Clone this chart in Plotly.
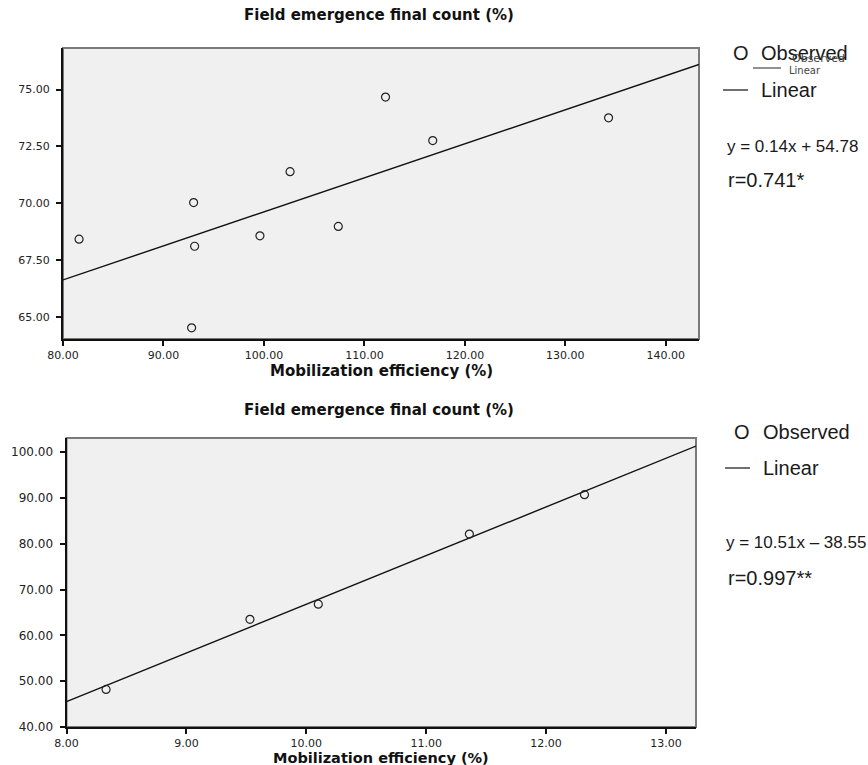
import numpy as np
import plotly.graph_objects as go

# ---------------- data ----------------
top_x = [81.6, 92.8, 93.0, 93.1, 99.6, 102.6, 107.4, 112.1, 116.8, 134.3]
top_y = [68.42, 64.52, 70.03, 68.11, 68.57, 71.39, 68.98, 74.67, 72.76, 73.76]
bot_x = [8.33, 9.53, 10.10, 11.36, 12.32]
bot_y = [48.2, 63.5, 66.8, 82.1, 90.7]

top_xticks = [80, 90, 100, 110, 120, 130, 140]
top_yticks = [65, 67.5, 70, 72.5, 75]
bot_xticks = [8, 9, 10, 11, 12, 13]
bot_yticks = [40, 50, 60, 70, 80, 90, 100]

top_xrange = [80, 143.3]
top_yrange = [64.03, 76.83]
bot_xrange = [8, 13.25]
bot_yrange = [40, 103.06]

title_text = "Field emergence final count (%)"
xtitle_text = "Mobilization efficiency (%)"
top_eq = "y = 0.14x + 54.78"
top_r = "r=0.741*"
bot_eq = "y = 10.51x \u2013 38.55"
bot_r = "r=0.997**"

# ---------------- page geometry helpers ----------------
W, H = 868, 765


def px(x):
    return x / W


def py(y):
    return 1 - y / H


fig = go.Figure()

# least-squares fits from the data
tb = np.polyfit(top_x, top_y, 1)
bb = np.polyfit(bot_x, bot_y, 1)
tlx = np.array(top_xrange)
blx = np.array(bot_xrange)

marker = dict(symbol="circle-open", size=8, color="#222222", line=dict(width=1.2, color="#222222"))
lstyle = dict(color="#111111", width=1.4)

fig.add_trace(go.Scatter(x=tlx, y=np.polyval(tb, tlx), mode="lines", line=lstyle,
                         xaxis="x", yaxis="y", showlegend=False, hoverinfo="skip"))
fig.add_trace(go.Scatter(x=top_x, y=top_y, mode="markers", marker=marker,
                         xaxis="x", yaxis="y", showlegend=False))
fig.add_trace(go.Scatter(x=blx, y=np.polyval(bb, blx), mode="lines", line=lstyle,
                         xaxis="x2", yaxis="y2", showlegend=False, hoverinfo="skip"))
fig.add_trace(go.Scatter(x=bot_x, y=bot_y, mode="markers", marker=marker,
                         xaxis="x2", yaxis="y2", showlegend=False))


def axstyle(size):
    return dict(showgrid=False, zeroline=False, showline=True, linecolor="#111111", linewidth=2,
                ticks="outside", ticklen=5, tickwidth=1.5, tickcolor="#111111",
                tickfont=dict(family="DejaVu Sans", size=size, color="#222222"),
                tickformat=".2f", fixedrange=True, automargin=False)


fig.update_layout(
    width=W, height=H,
    margin=dict(l=0, r=0, t=0, b=0, pad=0, autoexpand=False),
    paper_bgcolor="white",
    plot_bgcolor="#f0f0f0",
    xaxis=dict(domain=[px(63), px(699)], range=top_xrange, tickvals=top_xticks,
               anchor="y", **axstyle(11)),
    yaxis=dict(domain=[py(339), py(48)], range=top_yrange, tickvals=top_yticks,
               anchor="x", ticklabelstandoff=4, **axstyle(11)),
    xaxis2=dict(domain=[px(66.5), px(696)], range=bot_xrange, tickvals=bot_xticks,
                anchor="y2", **axstyle(11)),
    yaxis2=dict(domain=[py(727), py(438)], range=bot_yrange, tickvals=bot_yticks,
                anchor="x2", ticklabelstandoff=4, **axstyle(12)),
)

# frames (gray top/right border)
for xr, yr in (("x", "y"), ("x2", "y2")):
    fig.add_shape(type="rect", xref=f"{xr} domain", yref=f"{yr} domain",
                  x0=0, x1=1, y0=0, y1=1, line=dict(color="#7a7a7a", width=2), layer="below")

ann = []
bold = dict(family="DejaVu Sans", size=15, color="#111111", weight="bold")
bold_ax = dict(family="DejaVu Sans", size=15, color="#111111", weight="bold")
bold_ax2 = dict(family="DejaVu Sans", size=14.5, color="#111111", weight="bold")
# titles
ann.append(dict(text=f"<b>{title_text}</b>", x=px(379), y=py(15), font=bold))
ann.append(dict(text=f"<b>{xtitle_text}</b>", x=px(381), y=py(371), font=bold_ax))
ann.append(dict(text=f"<b>{title_text}</b>", x=px(379), y=py(410), font=bold))
ann.append(dict(text=f"<b>{xtitle_text}</b>", x=px(381), y=py(758), font=bold_ax2))

legfont = dict(family="Liberation Sans", size=20, color="#1a1a1a")
eqfont = dict(family="Liberation Sans", size=17, color="#1a1a1a")


def left(text, x, y, font):
    return dict(text=text, x=px(x), y=py(y), xanchor="left", yanchor="middle", font=font)


# top legend
ann.append(left("O", 731, 53, legfont))
ann.append(left("Observed", 759, 53, legfont))
ann.append(left("Observed", 790, 59, dict(family="DejaVu Sans", size=11, color="#444444")))
ann.append(left("Linear", 787, 70, dict(family="DejaVu Sans", size=10, color="#444444")))
ann.append(left("Linear", 759, 90, legfont))
ann.append(left(top_eq, 725, 146, eqfont))
ann.append(left(top_r, 726, 180, legfont))
# bottom legend
ann.append(left("O", 732, 432, legfont))
ann.append(left("Observed", 761, 432, legfont))
ann.append(left("Linear", 761, 468, legfont))
ann.append(left(bot_eq, 724, 542, eqfont))
ann.append(left(bot_r, 726, 578, legfont))

for a in ann:
    a.setdefault("xref", "paper")
    a.setdefault("yref", "paper")
    a.setdefault("showarrow", False)
    a.setdefault("xanchor", "center")
    a.setdefault("yanchor", "middle")
fig.update_layout(annotations=ann)

# legend line samples
for (x0, x1, y) in ((723, 748, 90), (753, 781, 68), (725, 750, 468)):
    fig.add_shape(type="line", xref="paper", yref="paper", x0=px(x0), x1=px(x1),
                  y0=py(y), y1=py(y), line=dict(color="#222222", width=1.3 if y != 68 else 1))

fig.write_html("out.html", config={"displayModeBar": False},
               post_script="document.body.style.margin='0px';")
